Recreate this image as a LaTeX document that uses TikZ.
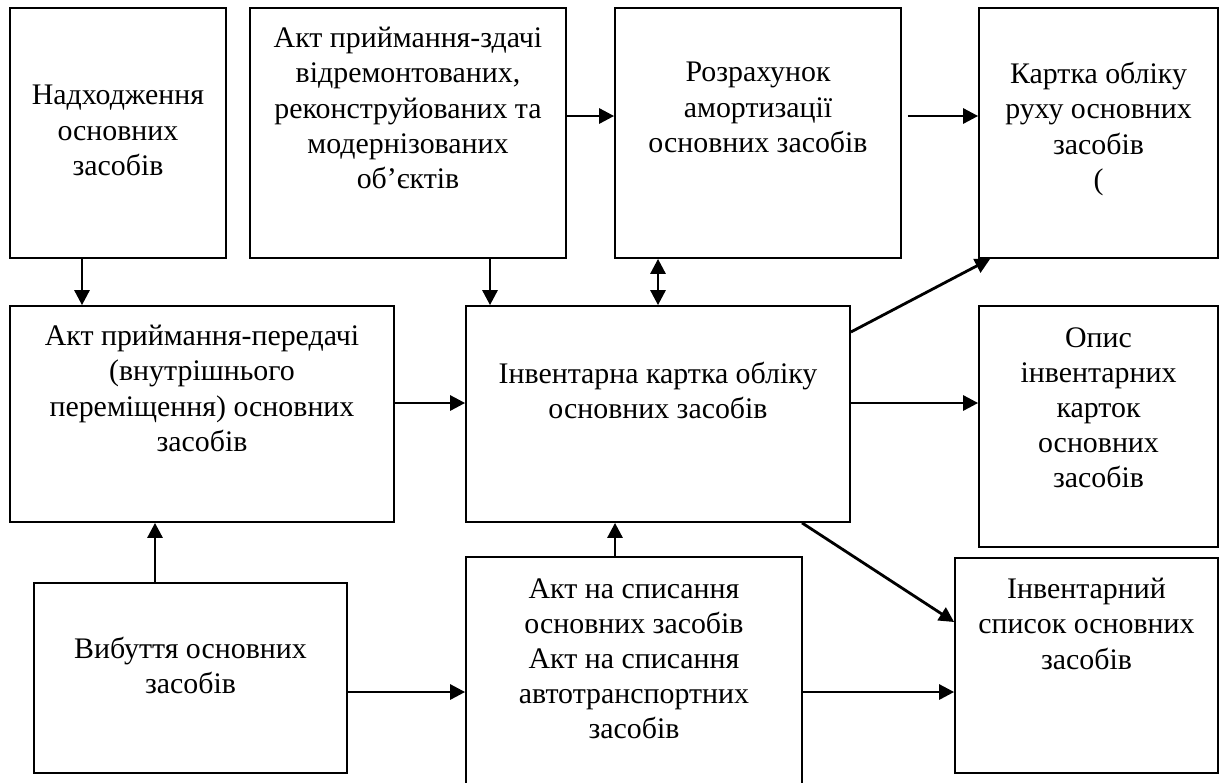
\documentclass[tikz,border=0pt]{standalone}
\usepackage{fontspec}
\setmainfont{Liberation Serif}
\usetikzlibrary{arrows.meta}
\newcommand{\pxsize}{0.02cm}

\begin{document}
\begin{tikzpicture}[x=\pxsize,y=-\pxsize]
                \useasboundingbox (0,0) rectangle (1222,782);
                \clip (0,0) rectangle (1222,782);

                \begin{scope}[every node/.style={rectangle,draw,line width=1pt}]
                    \node[minimum width=216*\pxsize,minimum height=250*\pxsize] (a) at (118,133) {};
                    \node[minimum width=316*\pxsize,minimum height=250*\pxsize] (b) at (408,133) {};
                    \node[minimum width=286*\pxsize,minimum height=250*\pxsize] (c) at (758,133) {};
                    \node[minimum width=239*\pxsize,minimum height=250*\pxsize] (d) at (1098.5,133) {};
                    \node[minimum width=384*\pxsize,minimum height=216*\pxsize] (e) at (202,414) {};
                    \node[minimum width=384*\pxsize,minimum height=216*\pxsize] (f) at (658,414) {};
                    \node[minimum width=239*\pxsize,minimum height=241*\pxsize] (g) at (1098.5,426.5) {};
                    \node[minimum width=313*\pxsize,minimum height=190*\pxsize] (h) at (190.5,678) {};
                    \node[minimum width=336*\pxsize,minimum height=243*\pxsize] (i) at (634,678.5) {};
                    \node[minimum width=263*\pxsize,minimum height=215*\pxsize] (j) at (1086.5,665.5) {};
                \end{scope}

                \begin{scope}[every node/.style={anchor=north,align=center,inner sep=0pt,font=\fontsize{17}{20}\selectfont}]
                    \node (ta) at (118,85) {Надходження\\основних\\засобів};
                    \node (tb) at (408,27) {Акт приймання-здачі\\відремонтованих,\\реконструйованих та\\модернізованих\\об’єктів};
                    \node (tc) at (758,62) {Розрахунок\\амортизації\\основних засобів};
                    \node (td) at (1098.5,62) {Картка обліку\\руху основних\\засобів\\(};
                    \node (te) at (202,325) {Акт приймання-передачі\\(внутрішнього\\переміщення) основних\\засобів};
                    \node (tf) at (658,362) {Інвентарна картка обліку\\основних засобів};
                    \node (tg) at (1098.5,327) {Опис\\інвентарних\\карток\\основних\\засобів};
                    \node (th) at (190.5,637) {Вибуття основних\\засобів};
                    \node (ti) at (634,578) {Акт на списання\\основних засобів\\Акт на списання\\автотранспортних\\засобів};
                    \node (tj) at (1086.5,578) {Інвентарний\\список основних\\засобів};
                \end{scope}

                \begin{scope}[>={Triangle[length=0.3cm,width=0.3cm]},
                    every edge/.style={draw=black,line width=1.6pt}]
                    \path [->] (a.south -| 82,0) edge (e.north -| 82,0);
                    \path [->] (b.south -| 490,0) edge (f.north -| 490,0);
                    \path [<->] (c.south -| 658,0) edge (f.north -| 658,0);

                    \path [->] (b.east |- 0,116) edge (c.west |- 0,116);
                    \path [->,shorten <=0.12cm] (c.east |- 0,116) edge (d.west |- 0,116);
                    \path [->] (f.east |- 0,332) edge ([xshift=0.24cm]d.south west);

                    \path [->] (e.east |- 0,403) edge (f.west |- 0,403);
                    \path [->] (f.east |- 0,403) edge (g.west |- 0,403);

                    \path [->] (h.north -| 155,0) edge (e.south -| 155,0);
                    \path [->] (i.north -| 615,0) edge (f.south -| 615,0);
                    \path [->] (f.south -| 802,0) edge (j.west |- 0,622);

                    \path [->] (h.east |- 0,692) edge (i.west |- 0,692);
                    \path [->] (i.east |- 0,692) edge (j.west |- 0,692);
                \end{scope}
            \end{tikzpicture}
\end{document}
